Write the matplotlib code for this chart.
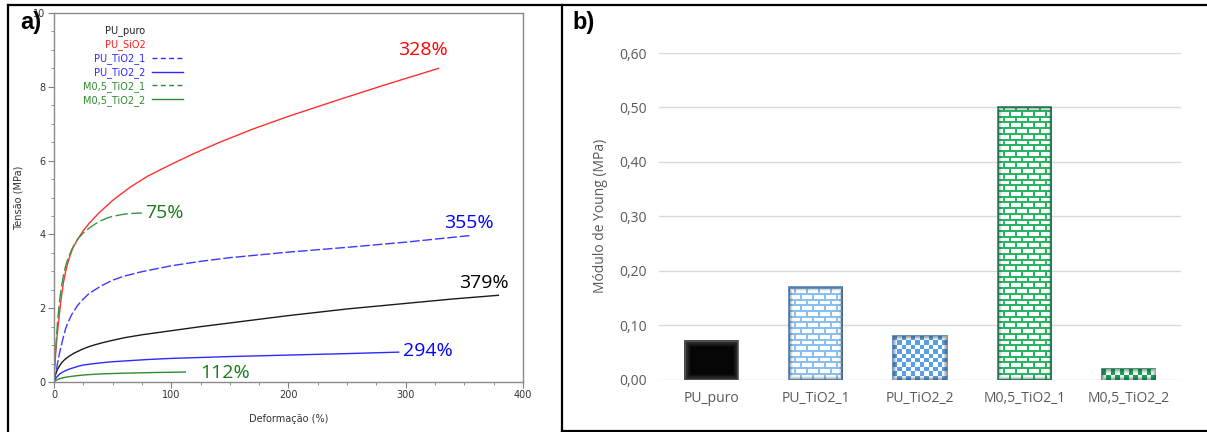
import numpy as np
import matplotlib
matplotlib.use("Agg")
import matplotlib.pyplot as plt
from matplotlib.lines import Line2D
from matplotlib.collections import LineCollection
from matplotlib.colors import ListedColormap, to_rgb
from matplotlib.ticker import MultipleLocator, FuncFormatter

# a) curvas tensão x deformação (deformação em %, tensão em MPa)
puro_x = [0, 0.5, 1.5, 3, 5, 7, 10, 13, 17, 21, 25, 30, 35, 42, 50, 60, 75, 100, 125, 150, 175, 200,
          250, 300, 340, 379]
puro_y = [0, 0.1, 0.22, 0.34, 0.45, 0.54, 0.63, 0.7, 0.78, 0.84, 0.9, 0.96, 1.01, 1.07, 1.13, 1.2,
          1.28, 1.39, 1.5, 1.6, 1.7, 1.8, 1.98, 2.13, 2.25, 2.35]

sio2_x = [0, 0.5, 1, 2, 3, 4, 5, 6.5, 8, 10, 12, 14, 16, 20, 25, 30, 38, 50, 65, 80, 100, 120, 140,
          170, 200, 240, 280, 328]
sio2_y = [0, 0.3, 0.55, 1.0, 1.35, 1.65, 1.95, 2.35, 2.68, 3.0, 3.25, 3.45, 3.62, 3.86, 4.1, 4.3, 4.57,
          4.92, 5.28, 5.58, 5.9, 6.2, 6.48, 6.86, 7.2, 7.62, 8.03, 8.5]

tio2_1_x = [0, 1, 2, 3, 4.5, 6, 8, 10, 12.5, 15, 20, 25, 30, 40, 50, 60, 75, 100, 125, 150, 200, 250,
            300, 355]
tio2_1_y = [0, 0.15, 0.3, 0.5, 0.75, 0.95, 1.22, 1.45, 1.65, 1.82, 2.07, 2.25, 2.4, 2.6, 2.76, 2.87,
            2.99, 3.15, 3.27, 3.37, 3.52, 3.65, 3.79, 3.97]

tio2_2_x = [0, 1, 2, 3.5, 5, 7.5, 10, 13, 17, 21, 25, 32, 40, 50, 60, 80, 100, 150, 200, 250, 294]
tio2_2_y = [0, 0.07, 0.12, 0.17, 0.22, 0.27, 0.31, 0.35, 0.39, 0.43, 0.46, 0.49, 0.52, 0.55, 0.57, 0.61,
            0.64, 0.69, 0.73, 0.77, 0.81]

m05_1_x = [0, 0.5, 1, 2, 3, 4, 5, 6.5, 8, 10, 12, 15, 18, 21, 25, 30, 35, 40, 45, 50, 55, 60, 67, 75]
m05_1_y = [0, 0.35, 0.65, 1.15, 1.6, 1.95, 2.25, 2.6, 2.88, 3.15, 3.35, 3.58, 3.76, 3.9, 4.04, 4.17,
           4.28, 4.37, 4.44, 4.49, 4.52, 4.55, 4.57, 4.58]

m05_2_x = [0, 1, 2, 4, 6, 8, 10, 14, 18, 25, 32, 40, 50, 60, 75, 90, 112]
m05_2_y = [0, 0.03, 0.05, 0.08, 0.1, 0.115, 0.13, 0.15, 0.165, 0.19, 0.205, 0.22, 0.23, 0.24, 0.25,
           0.26, 0.27]

# b) módulo de Young (MPa)
amostras = ["PU_puro", "PU_TiO2_1", "PU_TiO2_2", "M0,5_TiO2_1", "M0,5_TiO2_2"]
modulo = [0.07, 0.17, 0.08, 0.50, 0.02]

plt.rcParams["font.family"] = ["DejaVu Sans"]

fig = plt.figure(figsize=(12.07, 4.32), dpi=100)

# ---------------- painel a ----------------
ax1 = fig.add_axes([0.0447, 0.1157, 0.3886, 0.8542])

curvas = [
    (puro_x, puro_y, "#1a1a1a", None, "#000000", (-28, 9)),
    (sio2_x, sio2_y, "#ff3030", None, "#ff0000", (-29, 13)),
    (tio2_1_x, tio2_1_y, "#3a3aff", (7, 2), "#0000ff", (-19, 9)),
    (tio2_2_x, tio2_2_y, "#2b2bff", None, "#0000ff", (3, 1)),
    (m05_1_x, m05_1_y, "#3c963c", (9, 2.5), "#1a7a1a", (2, 0)),
    (m05_2_x, m05_2_y, "#2e8b2e", None, "#1a7a1a", (11, -1)),
]
for x, y, cor, tracos, cor_txt, desl in curvas:
    linha, = ax1.plot(x, y, color=cor, lw=1.0, solid_joinstyle="round")
    if tracos:
        linha.set_dashes(tracos)
    ax1.annotate(f"{x[-1]}%", xy=(x[-1], y[-1]), xytext=desl, textcoords="offset points",
                 color=cor_txt, fontsize=14, family="Open Sans", va="center", ha="left")

ax1.set_xlim(0, 400)
ax1.set_ylim(0, 10)
ax1.xaxis.set_major_locator(MultipleLocator(100))
ax1.xaxis.set_minor_locator(MultipleLocator(25))
ax1.yaxis.set_major_locator(MultipleLocator(2))
ax1.yaxis.set_minor_locator(MultipleLocator(0.5))
ax1.tick_params(which="both", direction="out", color="#808080", labelsize=7, labelcolor="#333333",
                top=False, right=False)
ax1.tick_params(which="major", length=4, pad=2)
ax1.tick_params(which="minor", length=2.5)
for s in ax1.spines.values():
    s.set_color("#8a8a8a")
    s.set_linewidth(1)
ax1.set_xlabel("Deformação (%)", fontsize=7, color="#333333", labelpad=10)
ax1.set_ylabel("Tensão (MPa)", fontsize=7, color="#333333", labelpad=7)

sem_linha = Line2D([], [], color="none")
handles = [
    sem_linha,
    sem_linha,
    Line2D([], [], color="#2b2bff", lw=1, dashes=(3.5, 2.5)),
    Line2D([], [], color="#2b2bff", lw=1),
    Line2D([], [], color="#2e8b2e", lw=1, dashes=(3.5, 2.5)),
    Line2D([], [], color="#2e8b2e", lw=1),
]
rotulos = ["PU_puro", "PU_SiO2", "PU_TiO2_1", "PU_TiO2_2", "M0,5_TiO2_1", "M0,5_TiO2_2"]
cores_leg = ["#222222", "#ff2020", "#2a2aff", "#2a2aff", "#2e8b2e", "#2e8b2e"]
leg = ax1.legend(handles, rotulos, loc="upper left", bbox_to_anchor=(0.062, 0.966), frameon=False,
                 fontsize=7, markerfirst=False, handlelength=3.2, handletextpad=0.7,
                 labelspacing=0.3, borderpad=0, borderaxespad=0, labelcolor=cores_leg)

# ---------------- painel b ----------------
ax2 = fig.add_axes([0.546, 0.1215, 0.4325, 0.7558])
pos = np.arange(len(amostras))
barras = ax2.bar(pos, modulo, width=0.51, zorder=2)
ax2.set_xlim(-0.5, len(amostras) - 0.5)
ax2.set_ylim(0, 0.6)


def tijolos(ax, barra, cor, alt=0.0105, larg=0.115):
    x0, y0 = barra.get_x(), barra.get_y()
    w, h = barra.get_width(), barra.get_height()
    segs = []
    for i, y in enumerate(np.arange(y0, y0 + h, alt)):
        segs.append([(x0, y), (x0 + w, y)])
        d = (i % 2) * larg / 2
        for x in np.arange(x0 + d, x0 + w, larg):
            segs.append([(x, y), (x, min(y + alt, y0 + h))])
    lc = LineCollection(segs, colors=cor, linewidths=1.4, zorder=3)
    ax.add_collection(lc, autolim=False)
    lc.set_clip_path(barra)


def xadrez(ax, barra, cor, lado_x=0.042, lado_y=0.008):
    x0, y0 = barra.get_x(), barra.get_y()
    w, h = barra.get_width(), barra.get_height()
    nx = max(1, round(w / lado_x))
    ny = max(1, round(h / lado_y))
    grade = np.indices((ny, nx)).sum(axis=0) % 2
    im = ax.imshow(grade, cmap=ListedColormap(["white", cor]), extent=(x0, x0 + w, y0, y0 + h),
                   aspect="auto", interpolation="nearest", origin="lower", zorder=3)
    im.set_clip_path(barra)


def bisel(ax, barra, cor="black", forca=0.45, borda=5):
    # sombreado nas bordas da barra, estilo "bisel" do Excel
    bb = barra.get_window_extent()
    W, H = max(int(bb.width), 2), max(int(bb.height), 2)
    yy, xx = np.mgrid[0:H, 0:W] + 0.5
    d = np.minimum.reduce([xx, W - xx, yy, H - yy])
    rgba = np.zeros((H, W, 4))
    rgba[..., :3] = to_rgb(cor)
    rgba[..., 3] = np.clip(1 - d / borda, 0, 1) * forca
    x0, y0 = barra.get_x(), barra.get_y()
    im = ax.imshow(rgba, extent=(x0, x0 + barra.get_width(), y0, y0 + barra.get_height()),
                   aspect="auto", interpolation="bilinear", zorder=4)
    im.set_clip_path(barra)


estilos = [
    ("#050505", "#2a2a2a", None, None),
    ("white", "#4a7ebb", "tijolo", "#86bff0"),
    ("white", "#4a7ebb", "xadrez", "#5a9fe3"),
    ("white", "#1c8a4c", "tijolo", "#22b45e"),
    ("white", "#1c8a4c", "xadrez", "#13a84f"),
]
for barra, (face, borda, padrao, cor_p) in zip(barras, estilos):
    barra.set_facecolor(face)
    barra.set_edgecolor(borda)
    barra.set_linewidth(1.2)
    if padrao == "tijolo":
        tijolos(ax2, barra, cor_p)
    elif padrao == "xadrez":
        xadrez(ax2, barra, cor_p)
    if face == "#050505":
        bisel(ax2, barra, cor="white", forca=0.22, borda=6)
    else:
        bisel(ax2, barra, cor="#203040", forca=0.5, borda=4)

ax2.set_xlim(-0.5, len(amostras) - 0.5)
ax2.set_ylim(0, 0.6)
ax2.set_xticks(pos)
ax2.set_xticklabels(amostras)
ax2.yaxis.set_major_locator(MultipleLocator(0.1))
ax2.yaxis.set_major_formatter(FuncFormatter(lambda v, _: f"{v:.2f}".replace(".", ",")))
ax2.grid(axis="y", color="#d9d9d9", lw=1, zorder=0)
ax2.set_axisbelow(True)
for s in ax2.spines.values():
    s.set_visible(False)
ax2.tick_params(length=0, labelsize=10, labelcolor="#595959")
ax2.tick_params(axis="y", pad=9)
ax2.tick_params(axis="x", pad=8)
for t in ax2.get_xticklabels() + ax2.get_yticklabels():
    t.set_family("Open Sans")
ax2.set_ylabel("Módulo de Young (MPa)", fontsize=10, color="#595959", family="Open Sans", labelpad=8)

# rótulos dos painéis e molduras
fig.text(20 / 1207, 1 - 23 / 432, "a)", fontsize=17, weight="bold", family="Liberation Sans", va="center")
fig.text(572 / 1207, 1 - 23 / 432, "b)", fontsize=17, weight="bold", family="Liberation Sans", va="center")

topo = 1 - 5 / 432
esq = 8 / 1207
meio = 562 / 1207
base = 1 - 431 / 432
for xs, ys in [((esq, 1), (topo, topo)), ((esq, esq), (0, topo)), ((meio, meio), (base, topo)),
               ((meio, 1), (base, base))]:
    fig.add_artist(Line2D(xs, ys, transform=fig.transFigure, color="black", lw=1.6))

fig.savefig("out.png", dpi=100)
